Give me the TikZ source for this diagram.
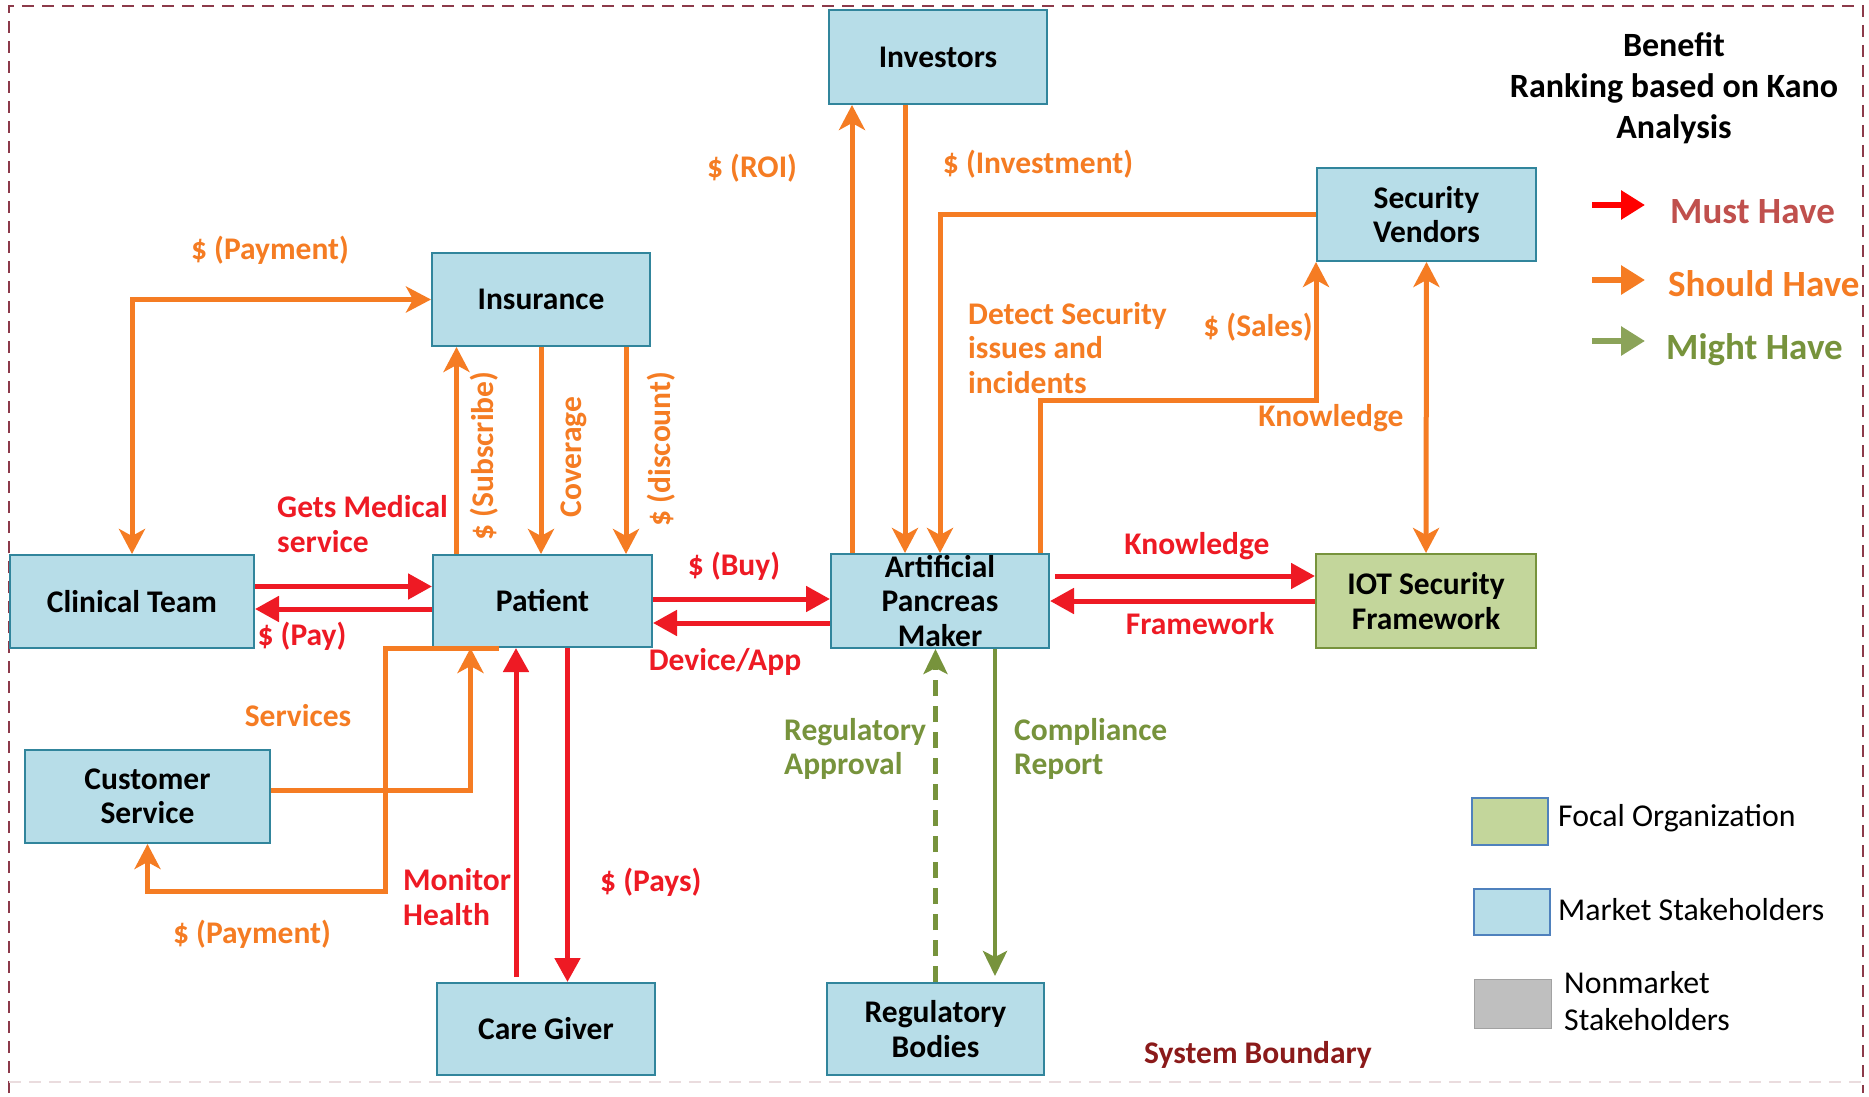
\documentclass[tikz,border=0pt]{standalone}
\usepackage{fontspec}
\setmainfont{Carlito}
\usetikzlibrary{arrows.meta,calc}
\definecolor{boxfill}{HTML}{B7DDE8}
\definecolor{boxline}{HTML}{31859C}
\definecolor{iotfill}{HTML}{C3D69B}
\definecolor{iotline}{HTML}{77933C}
\definecolor{orng}{HTML}{F57C23}
\definecolor{redc}{HTML}{EE1A24}
\definecolor{grn}{HTML}{77933C}
\definecolor{mustc}{HTML}{C0504D}
\definecolor{maroon}{HTML}{8B1A1A}
\definecolor{borderc}{HTML}{8C3A4A}
\definecolor{legblue}{HTML}{4F81BD}
\definecolor{greyfill}{HTML}{BFBFBF}
\tikzset{
  box/.style={draw=boxline, fill=boxfill, line width=2pt, inner sep=0pt, align=center, text=black},
  iotbox/.style={draw=iotline, fill=iotfill, line width=2pt, inner sep=0pt, align=center, text=black},
  lab/.style={inner sep=0pt},
  olab/.style={lab, text=orng},
  rlab/.style={lab, text=redc},
  glab/.style={lab, text=grn},
  oarr/.style={draw=orng, line width=5pt, -{Stealth[length=25pt,width=26pt,inset=7pt]}},
  oarrboth/.style={draw=orng, line width=5pt, {Stealth[length=25pt,width=26pt,inset=7pt]}-{Stealth[length=25pt,width=26pt,inset=7pt]}},
  rarr/.style={draw=redc, line width=5pt, -{Triangle[length=24pt,width=25pt]}},
  garr/.style={draw=grn, line width=4.5pt, -{Stealth[length=25pt,width=24pt,inset=6pt]}},
  legarrow/.style={line width=6pt, -{Triangle[length=24pt,width=28pt]}},
  boundary/.style={line width=2pt, dash pattern=on 12pt off 8pt},
}
\begin{document}
\begin{tikzpicture}[x=1pt,y=-1pt, font=\fontsize{31.5}{34.5}\selectfont\bfseries]
\useasboundingbox (0,0) rectangle (1869,1097);
\fill[white] (0,0) rectangle (1869,1097);
% system boundary
\coordinate (bTL) at (9,6);
\coordinate (bTR) at (1863,6);
\coordinate (bBR) at (1863,1093);
\coordinate (bBL) at (9,1093);
\coordinate (fBL) at (9,1082);
\coordinate (fBR) at (1863,1082);
\draw[boundary, draw=borderc] (bBL) -- (bTL) -- (bTR) -- (bBR);
\draw[boundary, draw=borderc!18] (fBL) -- (fBR);

% stakeholder boxes
\node[box, minimum width=218pt, minimum height=94pt] (inv) at (938,57) {Investors};
\node[box, minimum width=218pt, minimum height=93pt] (ins) at (541,299.5) {Insurance};
\node[box, minimum width=219pt, minimum height=93pt] (sv) at (1426.5,214.5) {Security\\Vendors};
\node[box, minimum width=244pt, minimum height=93pt] (ct) at (132,601.5) {Clinical Team};
\node[box, minimum width=219pt, minimum height=92pt] (pat) at (542.5,601) {Patient};
\node[box, minimum width=218pt, minimum height=94pt] (ap) at (940,601) {Artificial\\Pancreas\\Maker};
\node[iotbox, minimum width=220pt, minimum height=94pt] (iot) at (1426,601) {IOT Security\\Framework};
\node[box, minimum width=245pt, minimum height=93pt] (cs) at (147.5,796.5) {Customer\\Service};
\node[box, minimum width=218pt, minimum height=92pt] (cg) at (546,1029) {Care Giver};
\node[box, minimum width=217pt, minimum height=92pt] (rb) at (935.5,1029) {Regulatory\\Bodies};

% connectors
\draw[oarrboth] (ct.north) |- (ins.west);
\draw[oarr] ([xshift=-86pt]pat.north) -- ([xshift=-86pt]pat.north |- ins.south);
\draw[oarr] (ins.south) -- (ins.south |- pat.north);
\draw[oarr] ([xshift=85pt]ins.south) -- ([xshift=85pt]ins.south |- pat.north);

\draw[rarr] ([yshift=15pt]ct.east) -- ([yshift=15pt]ct.east -| pat.west);
\draw[rarr] ([yshift=-8pt]pat.west) -- ([yshift=-8pt]pat.west -| ct.east);

\draw[rarr] ([yshift=2pt]pat.east) -- ([yshift=2pt]pat.east -| ap.west);
\draw[rarr] ([yshift=-22pt]ap.west) -- ([yshift=-22pt]ap.west -| pat.east);

\draw[rarr] ([yshift=25pt,xshift=5pt]ap.east) -- ([yshift=25pt]ap.east -| iot.west);
\draw[rarr] (iot.west) -- (ap.east);

\draw[oarr] ([xshift=-88pt]ap.north) -- ([xshift=-88pt]ap.north |- inv.south);
\draw[oarr] ([xshift=-33pt]inv.south) -- ([xshift=-33pt]inv.south |- ap.north);
\draw[oarr] (sv.west) -| (ap.north);
\draw[oarr] ([xshift=100pt]ap.north) |- ([yshift=-138pt]sv.south west) -- (sv.south west);
\draw[oarrboth] (sv.south) -- (iot.north);

\draw[oarr] ([yshift=6pt]cs.east) -| ([xshift=-72pt]pat.south);
\coordinate (payc) at (385,891);
\draw[oarr] ([xshift=-44pt]pat.south) -| (payc) -| (cs.south);

\draw[rarr] ([xshift=-30pt,yshift=5pt]cg.north) -- ([xshift=-30pt]cg.north |- pat.south);
\draw[rarr] ([xshift=25pt]pat.south) -- ([xshift=25pt]pat.south |- cg.north);

\draw[garr, dash pattern=on 16pt off 10pt] (rb.north) -- (rb.north |- ap.south);
\draw[garr, shorten >=6pt] ([xshift=55pt]ap.south) -- ([xshift=55pt]ap.south |- rb.north);

% connector labels
\node[olab] (lpay1) at (270,250) {\$ (Payment)};
\node[olab, rotate=90] (lsub) at (484,456) {\$ (Subscribe)};
\node[olab, rotate=90] (lcov) at (574,457) {Coverage};
\node[olab, rotate=90] (ldis) at (661,449) {\$ (discount)};
\node[rlab, align=left, anchor=west] (lgets) at (277,524) {Gets Medical\\service};
\node[rlab] (lpay) at (302,636) {\$ (Pay)};
\node[rlab] (lbuy) at (734,566) {\$ (Buy)};
\node[rlab] (ldev) at (725,662) {Device/App};
\node[olab] (lroi) at (752,168) {\$ (ROI)};
\node[olab] (linv) at (1038,164) {\$ (Investment)};
\node[olab, align=left, anchor=west] (ldet) at (968,348) {Detect Security\\issues and\\incidents};
\node[olab] (lsales) at (1258,327) {\$ (Sales)};
\node[olab] (lknow2) at (1331,418) {Knowledge};
\node[rlab] (lknow) at (1197,546) {Knowledge};
\node[rlab] (lfw) at (1200,624) {Framework};
\node[olab] (lserv) at (298,716) {Services};
\node[olab] (lpay2) at (252,934) {\$ (Payment)};
\node[rlab, align=left, anchor=west] (lmon) at (403,897) {Monitor\\Health};
\node[rlab, anchor=west] (lpays) at (600,882) {\$ (Pays)};
\node[glab, align=left, anchor=west] (lreg) at (784,749) {Regulatory\\Approval};
\node[glab, align=left, anchor=west] (lcomp) at (1014,749) {Compliance\\Report};
\node[lab, text=maroon] (lsys) at (1258,1055) {System Boundary};

% legend
\node[lab, align=center, font=\fontsize{34}{41}\selectfont\bfseries] (ltitle) at (1674,88) {Benefit\\Ranking based on Kano\\Analysis};
\coordinate (m1) at (1592,205); \coordinate (m2) at (1645,205);
\coordinate (s1) at (1592,280); \coordinate (s2) at (1645,280);
\coordinate (g1) at (1592,341); \coordinate (g2) at (1645,341);
\draw[legarrow, draw=red, color=red] (m1) -- (m2);
\draw[legarrow, draw=orng, color=orng] (s1) -- (s2);
\draw[legarrow, draw=grn!85!white, color=grn!85!white] (g1) -- (g2);
\node[lab, anchor=base west, text=mustc, font=\fontsize{37}{40}\selectfont\bfseries] (lmust) at (1670,223) {Must Have};
\node[lab, anchor=base west, text=orng, font=\fontsize{37}{40}\selectfont\bfseries] (lshould) at (1668,296) {Should Have};
\node[lab, anchor=base west, text=grn, font=\fontsize{37}{40}\selectfont\bfseries] (lmight) at (1666,359) {Might Have};

\node[draw=legblue, fill=iotfill, line width=2pt, minimum width=76pt, minimum height=47pt, inner sep=0pt] (k1) at (1510,821.5) {};
\node[draw=legblue, fill=boxfill, line width=2pt, minimum width=76pt, minimum height=46pt, inner sep=0pt] (k2) at (1512,912) {};
\node[draw=greyfill!85!black, fill=greyfill, line width=1pt, minimum width=77pt, minimum height=49pt, inner sep=0pt] (k3) at (1512.5,1003.5) {};
\node[lab, anchor=west, font=\fontsize{31.8}{37}\selectfont\mdseries] (t1) at (1558,818) {Focal Organization};
\node[lab, anchor=west, font=\fontsize{31.8}{37}\selectfont\mdseries] (t2) at (1558,910) {Market Stakeholders};
\node[lab, anchor=west, align=left, font=\fontsize{31.8}{37}\selectfont\mdseries] (t3) at (1564,1001) {Nonmarket\\Stakeholders};
\end{tikzpicture}
\end{document}
